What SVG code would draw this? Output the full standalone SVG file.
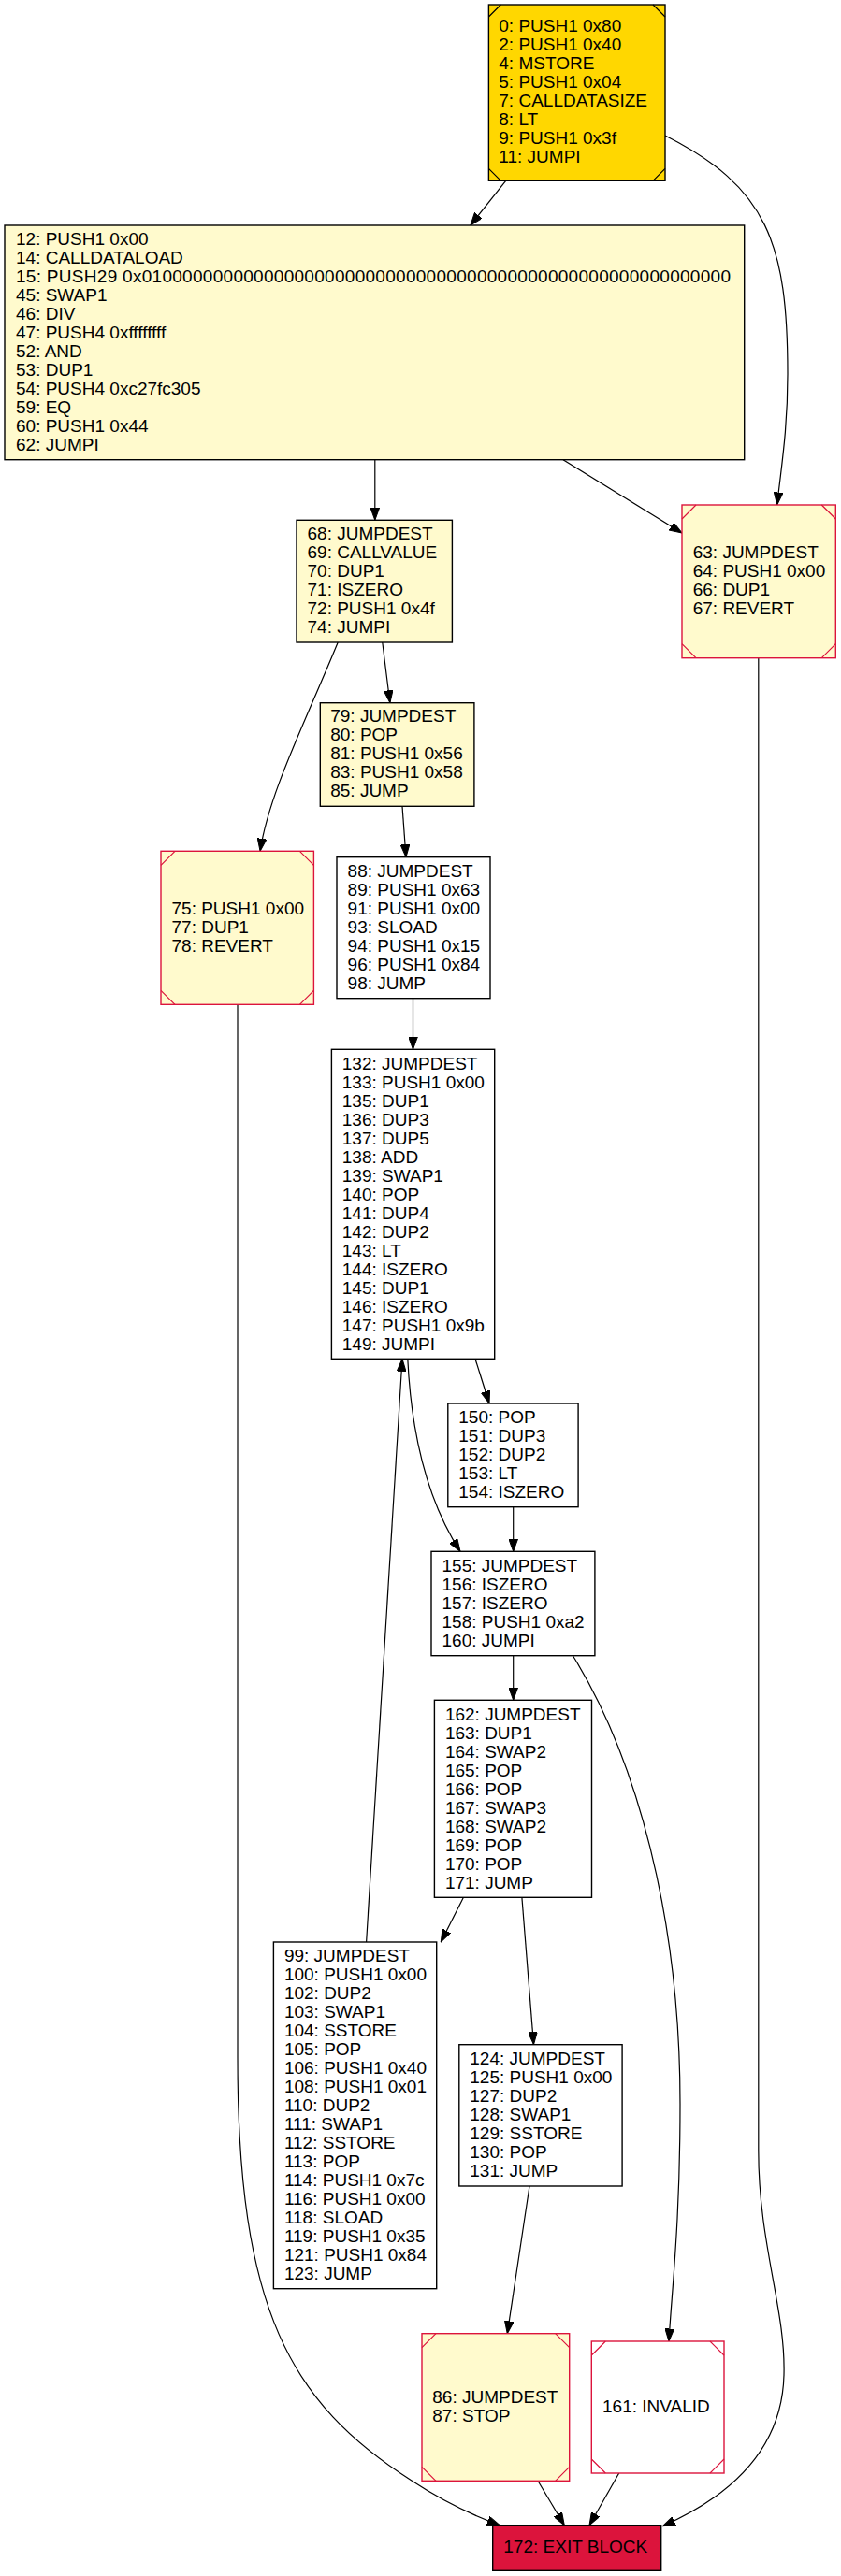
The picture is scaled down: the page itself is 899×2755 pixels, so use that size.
<svg xmlns="http://www.w3.org/2000/svg" width="899" height="2755" viewBox="0 0 899 2755">
<defs>
<style>
text{font-family:"Liberation Sans",Arial,sans-serif;font-size:19px;fill:#000}
.n{stroke:#000;stroke-width:1.4}
.w{fill:#fff}
.y{fill:#fffacd}
.g{fill:#ffd700}
.r{stroke:#dc143c;stroke-width:1.4}
.c{stroke:#000;stroke-width:1.2;fill:none}
.cr{stroke:#dc143c;stroke-width:1.2;fill:none}
.e{stroke:#000;stroke-width:1.2;fill:none;marker-end:url(#arr)}
</style>
<marker id="arr" markerUnits="userSpaceOnUse" viewBox="0 0 14 10" markerWidth="14" markerHeight="10" refX="13.5" refY="5" orient="auto">
<path d="M0,0.1 L13.5,5 L0,9.9 Z" fill="#000" stroke="#000" stroke-width="1"/>
</marker>
</defs>
<rect width="899" height="2755" fill="#fff"/>
<g id="connectors">
<path class="e" d="M540.7,193.3 L502.9,241"/>
<path class="e" d="M711,145 C820,200 842,260 842,400 C842,460 835,500 830.7,540"/>
<path class="e" d="M400.8,491.7 L400.8,556.3"/>
<path class="e" d="M602,491.7 L729,570"/>
<path class="e" d="M408.8,687 L416.9,751.7"/>
<path class="e" d="M361.2,687 C325,775 287,850 278.1,910.3"/>
<path class="e" d="M430,862.3 L434,916.7"/>
<path class="e" d="M441.5,1067.7 L441.5,1122.3"/>
<path class="e" d="M508,1453.3 L523,1501"/>
<path class="e" d="M435.8,1453.3 C440,1540 460,1610 492,1659.3"/>
<path class="e" d="M391.6,2077 L430,1453.3"/>
<path class="e" d="M548.7,1611.7 L548.7,1659.3"/>
<path class="e" d="M548.7,1770.7 L548.7,1818.3"/>
<path class="e" d="M495.4,2029.3 L471.3,2077"/>
<path class="e" d="M557.9,2029.3 L570.5,2186.7"/>
<path class="e" d="M612.4,1770.7 C680,1880 727,2050 727,2250 C727,2380 718,2450 715,2504"/>
<path class="e" d="M566,2338 L542.3,2495.7"/>
<path class="e" d="M575,2653.3 L603.3,2700.7"/>
<path class="e" d="M661.7,2645 L630,2700.7"/>
<path class="e" d="M254,1074.3 L254,2200 C254,2470 310,2570 440,2653 C475,2676 505,2690 534.3,2700.7"/>
<path class="e" d="M810.8,703.7 L810.8,2300 C810.8,2400 840,2470 838,2540 C836,2620 780,2670 708.3,2701.7"/>
</g>
<g id="node0">
<rect class="n g" x="522.4" y="5" width="188.6" height="188.3"/>
<path class="c" d="M522.4,18 L535.4,5 M698,5 L711,18 M522.4,180.3 L535.4,193.3 M698,193.3 L711,180.3"/>
<text x="533.3" y="34.3">0: PUSH1 0x80</text>
<text x="533.3" y="54.3">2: PUSH1 0x40</text>
<text x="533.3" y="74.3">4: MSTORE</text>
<text x="533.3" y="94.3">5: PUSH1 0x04</text>
<text x="533.3" y="114.3">7: CALLDATASIZE</text>
<text x="533.3" y="134.3">8: LT</text>
<text x="533.3" y="154.3">9: PUSH1 0x3f</text>
<text x="533.3" y="174.3">11: JUMPI</text>
</g>
<g id="node12">
<rect class="n y" x="5" y="241" width="790.7" height="250.7"/>
<text x="17" y="262.3">12: PUSH1 0x00</text>
<text x="17" y="282.3">14: CALLDATALOAD</text>
<text x="17" y="302.3" textLength="764" lengthAdjust="spacing">15: PUSH29 0x0100000000000000000000000000000000000000000000000000000000</text>
<text x="17" y="322.3">45: SWAP1</text>
<text x="17" y="342.3">46: DIV</text>
<text x="17" y="362.3">47: PUSH4 0xffffffff</text>
<text x="17" y="382.3">52: AND</text>
<text x="17" y="402.3">53: DUP1</text>
<text x="17" y="422.3">54: PUSH4 0xc27fc305</text>
<text x="17" y="442.3">59: EQ</text>
<text x="17" y="462.3">60: PUSH1 0x44</text>
<text x="17" y="482.3">62: JUMPI</text>
</g>
<g id="node63">
<rect class="r y" x="729" y="540" width="164.3" height="163.7"/>
<path class="cr" d="M729,555 L744,540 M878.3,540 L893.3,555 M729,688.7 L744,703.7 M878.3,703.7 L893.3,688.7"/>
<text x="740.7" y="597">63: JUMPDEST</text>
<text x="740.7" y="617">64: PUSH1 0x00</text>
<text x="740.7" y="637">66: DUP1</text>
<text x="740.7" y="657">67: REVERT</text>
</g>
<g id="node68">
<rect class="n y" x="317" y="556.3" width="166.4" height="130.7"/>
<text x="328.5" y="577">68: JUMPDEST</text>
<text x="328.5" y="597">69: CALLVALUE</text>
<text x="328.5" y="617">70: DUP1</text>
<text x="328.5" y="637">71: ISZERO</text>
<text x="328.5" y="657">72: PUSH1 0x4f</text>
<text x="328.5" y="677">74: JUMPI</text>
</g>
<g id="node79">
<rect class="n y" x="342.3" y="751.7" width="164.6" height="110.6"/>
<text x="353.2" y="772">79: JUMPDEST</text>
<text x="353.2" y="792">80: POP</text>
<text x="353.2" y="812">81: PUSH1 0x56</text>
<text x="353.2" y="832">83: PUSH1 0x58</text>
<text x="353.2" y="852">85: JUMP</text>
</g>
<g id="node75">
<rect class="r y" x="172" y="910.3" width="163.4" height="164"/>
<path class="cr" d="M172,925.3 L187,910.3 M320.4,910.3 L335.4,925.3 M172,1059.3 L187,1074.3 M320.4,1074.3 L335.4,1059.3"/>
<text x="183.5" y="978">75: PUSH1 0x00</text>
<text x="183.5" y="998">77: DUP1</text>
<text x="183.5" y="1018">78: REVERT</text>
</g>
<g id="node88">
<rect class="n w" x="360" y="916.7" width="164" height="151"/>
<text x="371.6" y="938">88: JUMPDEST</text>
<text x="371.6" y="958">89: PUSH1 0x63</text>
<text x="371.6" y="978">91: PUSH1 0x00</text>
<text x="371.6" y="998">93: SLOAD</text>
<text x="371.6" y="1018">94: PUSH1 0x15</text>
<text x="371.6" y="1038">96: PUSH1 0x84</text>
<text x="371.6" y="1058">98: JUMP</text>
</g>
<g id="node132">
<rect class="n w" x="354.4" y="1122.3" width="174.3" height="331"/>
<text x="365.8" y="1143.7">132: JUMPDEST</text>
<text x="365.8" y="1163.7">133: PUSH1 0x00</text>
<text x="365.8" y="1183.7">135: DUP1</text>
<text x="365.8" y="1203.7">136: DUP3</text>
<text x="365.8" y="1223.7">137: DUP5</text>
<text x="365.8" y="1243.7">138: ADD</text>
<text x="365.8" y="1263.7">139: SWAP1</text>
<text x="365.8" y="1283.7">140: POP</text>
<text x="365.8" y="1303.7">141: DUP4</text>
<text x="365.8" y="1323.7">142: DUP2</text>
<text x="365.8" y="1343.7">143: LT</text>
<text x="365.8" y="1363.7">144: ISZERO</text>
<text x="365.8" y="1383.7">145: DUP1</text>
<text x="365.8" y="1403.7">146: ISZERO</text>
<text x="365.8" y="1423.7">147: PUSH1 0x9b</text>
<text x="365.8" y="1443.7">149: JUMPI</text>
</g>
<g id="node150">
<rect class="n w" x="478.8" y="1501" width="139.3" height="110.7"/>
<text x="490.3" y="1522">150: POP</text>
<text x="490.3" y="1542">151: DUP3</text>
<text x="490.3" y="1562">152: DUP2</text>
<text x="490.3" y="1582">153: LT</text>
<text x="490.3" y="1602">154: ISZERO</text>
</g>
<g id="node155">
<rect class="n w" x="461" y="1659.3" width="174.9" height="111.4"/>
<text x="472.5" y="1681">155: JUMPDEST</text>
<text x="472.5" y="1701">156: ISZERO</text>
<text x="472.5" y="1721">157: ISZERO</text>
<text x="472.5" y="1741">158: PUSH1 0xa2</text>
<text x="472.5" y="1761">160: JUMPI</text>
</g>
<g id="node162">
<rect class="n w" x="464.4" y="1818.3" width="168.1" height="211"/>
<text x="475.9" y="1839.7">162: JUMPDEST</text>
<text x="475.9" y="1859.7">163: DUP1</text>
<text x="475.9" y="1879.7">164: SWAP2</text>
<text x="475.9" y="1899.7">165: POP</text>
<text x="475.9" y="1919.7">166: POP</text>
<text x="475.9" y="1939.7">167: SWAP3</text>
<text x="475.9" y="1959.7">168: SWAP2</text>
<text x="475.9" y="1979.7">169: POP</text>
<text x="475.9" y="1999.7">170: POP</text>
<text x="475.9" y="2019.7">171: JUMP</text>
</g>
<g id="node99">
<rect class="n w" x="292.4" y="2077" width="174.3" height="370.7"/>
<text x="303.9" y="2097.8">99: JUMPDEST</text>
<text x="303.9" y="2117.8">100: PUSH1 0x00</text>
<text x="303.9" y="2137.8">102: DUP2</text>
<text x="303.9" y="2157.8">103: SWAP1</text>
<text x="303.9" y="2177.8">104: SSTORE</text>
<text x="303.9" y="2197.8">105: POP</text>
<text x="303.9" y="2217.8">106: PUSH1 0x40</text>
<text x="303.9" y="2237.8">108: PUSH1 0x01</text>
<text x="303.9" y="2257.8">110: DUP2</text>
<text x="303.9" y="2277.8">111: SWAP1</text>
<text x="303.9" y="2297.8">112: SSTORE</text>
<text x="303.9" y="2317.8">113: POP</text>
<text x="303.9" y="2337.8">114: PUSH1 0x7c</text>
<text x="303.9" y="2357.8">116: PUSH1 0x00</text>
<text x="303.9" y="2377.8">118: SLOAD</text>
<text x="303.9" y="2397.8">119: PUSH1 0x35</text>
<text x="303.9" y="2417.8">121: PUSH1 0x84</text>
<text x="303.9" y="2437.8">123: JUMP</text>
</g>
<g id="node124">
<rect class="n w" x="490.8" y="2186.7" width="174.3" height="151.3"/>
<text x="502.3" y="2208.3">124: JUMPDEST</text>
<text x="502.3" y="2228.3">125: PUSH1 0x00</text>
<text x="502.3" y="2248.3">127: DUP2</text>
<text x="502.3" y="2268.3">128: SWAP1</text>
<text x="502.3" y="2288.3">129: SSTORE</text>
<text x="502.3" y="2308.3">130: POP</text>
<text x="502.3" y="2328.3">131: JUMP</text>
</g>
<g id="node86">
<rect class="r y" x="451" y="2495.7" width="157.7" height="157.6"/>
<path class="cr" d="M451,2510.7 L466,2495.7 M593.7,2495.7 L608.7,2510.7 M451,2638.3 L466,2653.3 M593.7,2653.3 L608.7,2638.3"/>
<text x="462.3" y="2570.3">86: JUMPDEST</text>
<text x="462.3" y="2590.3">87: STOP</text>
</g>
<g id="node161">
<rect class="r w" x="632.3" y="2504" width="141.7" height="141"/>
<path class="cr" d="M632.3,2519 L647.3,2504 M759,2504 L774,2519 M632.3,2630 L647.3,2645 M759,2645 L774,2630"/>
<text x="644" y="2580.3">161: INVALID</text>
</g>
<g id="node172">
<rect class="n" fill="#dc143c" x="526.7" y="2700.7" width="180" height="48.6"/>
<text x="538.3" y="2730.3">172: EXIT BLOCK</text>
</g>
</svg>
